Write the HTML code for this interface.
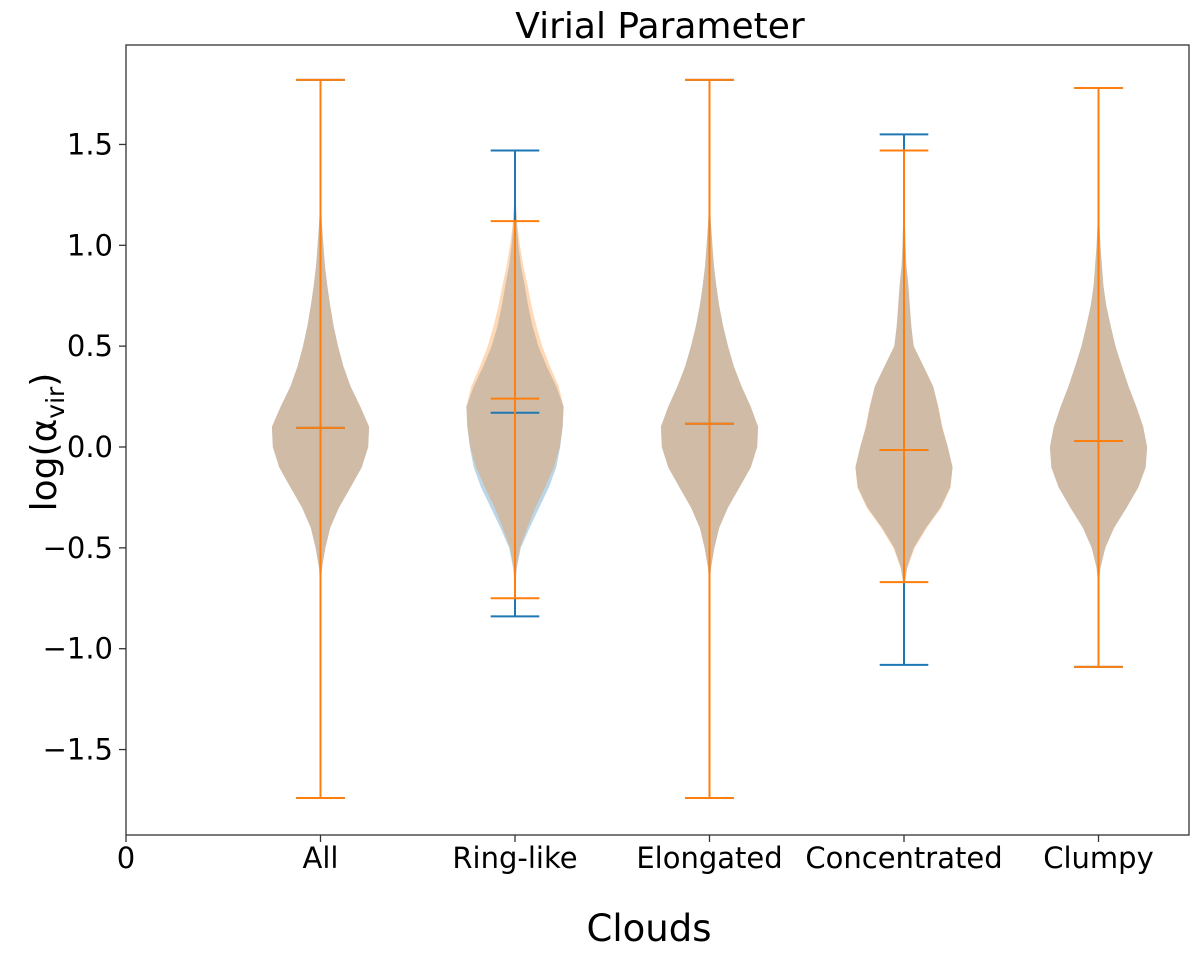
<!DOCTYPE html>
<html><head><meta charset="utf-8"><style>
body{margin:0;background:#fff}
svg{display:block;font-family:"DejaVu Sans","Liberation Sans",sans-serif}
</style></head><body>
<svg id="chart" width="1200" height="954">
<rect x="0" y="0" width="1200" height="954" fill="#fff"/>
<text x="660" y="38" font-size="36" text-anchor="middle">Virial Parameter</text>
<text x="649" y="941" font-size="37" text-anchor="middle">Clouds</text>
<text transform="translate(56,442) rotate(-90)" font-size="36" text-anchor="middle">log(α<tspan font-size="25" dy="8">vir</tspan><tspan dy="-8">)</tspan></text>
<g id="plot"></g>
<rect x="126" y="45" width="1063" height="790" fill="none" stroke="#333" stroke-width="1.3"/>
</svg>
<script>
const categories = ["All","Ring-like","Elongated","Concentrated","Clumpy"];
const yLevels = [-0.7,-0.6,-0.5,-0.4,-0.3,-0.2,-0.1,0,0.1,0.2,0.3,0.4,0.5,0.6,0.7,0.8,0.9,1.0,1.1,1.2,1.3];
const densBlue = [
 [0,0.03,0.1,0.2,0.38,0.62,0.85,0.98,1,0.82,0.62,0.47,0.36,0.27,0.2,0.14,0.09,0.06,0.03,0.01,0],
 [0,0.04,0.12,0.3,0.5,0.7,0.85,0.93,0.98,1,0.85,0.65,0.48,0.36,0.27,0.2,0.12,0.07,0.04,0.02,0],
 [0,0.03,0.1,0.2,0.38,0.62,0.85,0.98,1,0.85,0.66,0.5,0.38,0.28,0.2,0.14,0.09,0.06,0.03,0.01,0],
 [0,0.06,0.2,0.45,0.75,0.95,1,0.9,0.78,0.7,0.6,0.4,0.2,0.15,0.12,0.09,0.05,0.03,0.02,0.01,0],
 [0,0.04,0.14,0.32,0.58,0.82,0.97,1,0.92,0.78,0.62,0.48,0.35,0.25,0.16,0.1,0.07,0.04,0.02,0.01,0]
];
const densOrange = [
 [0,0.03,0.1,0.2,0.38,0.62,0.85,0.98,1,0.82,0.62,0.47,0.36,0.27,0.2,0.14,0.09,0.06,0.03,0.01,0],
 [0,0.03,0.1,0.25,0.42,0.62,0.8,0.92,0.98,1,0.9,0.72,0.56,0.44,0.34,0.26,0.17,0.1,0.05,0.02,0],
 [0,0.03,0.1,0.2,0.38,0.62,0.85,0.98,1,0.85,0.66,0.5,0.38,0.28,0.2,0.14,0.09,0.06,0.03,0.01,0],
 [0,0.07,0.22,0.47,0.77,0.96,1,0.9,0.79,0.71,0.6,0.4,0.2,0.15,0.12,0.09,0.05,0.03,0.02,0.01,0],
 [0,0.04,0.14,0.32,0.58,0.82,0.97,1,0.92,0.78,0.62,0.48,0.35,0.25,0.16,0.1,0.07,0.04,0.02,0.01,0]
];
const blueMin = [-1.74,-0.84,-1.74,-1.08,-1.09];
const blueMax = [1.82,1.47,1.82,1.55,1.78];
const blueMed = [0.095,0.17,0.115,-0.015,0.03];
const orangeMin = [-1.74,-0.75,-1.74,-0.67,-1.09];
const orangeMax = [1.82,1.12,1.82,1.47,1.78];
const orangeMed = [0.095,0.24,0.115,-0.015,0.03];
const yTicks = [-1.5,-1.0,-0.5,0.0,0.5,1.0,1.5];
const yTickLabels = ["−1.5","−1.0","−0.5","0.0","0.5","1.0","1.5"];

const X0=126, XU=194.5, Y0=447, YU=201.7;
const xs = v => X0 + v*XU;
const ys = v => Y0 - v*YU;
const NS='http://www.w3.org/2000/svg';
const plot=document.getElementById('plot');
function mk(tag, attrs){const e=document.createElementNS(NS,tag);for(const k in attrs)e.setAttribute(k,attrs[k]);plot.appendChild(e);return e;}

yTicks.forEach((t,i)=>{
  const l=mk('line',{x1:119,x2:126,y1:ys(t),y2:ys(t),stroke:'#333','stroke-width':1.3});
  
  
  const tx=mk('text',{x:113,y:ys(t)+10,'font-size':29,'text-anchor':'end'});
  tx.textContent=yTickLabels[i];
  
  
});
const xLabels=["0"].concat(categories);
xLabels.forEach((c,i)=>{
  const l=mk('line',{x1:xs(i),x2:xs(i),y1:835,y2:842,stroke:'#333','stroke-width':1.3});
  
  
  const tx=mk('text',{x:xs(i),y:868,'font-size':29,'text-anchor':'middle'});
  tx.textContent=c;
  
  
});

function violin(i,dens,color){
  const cx=xs(i+1), hw=0.25*XU;
  let r=[],l=[];
  yLevels.forEach((y,k)=>{r.push((cx+dens[k]*hw).toFixed(1)+','+ys(y).toFixed(1));l.unshift((cx-dens[k]*hw).toFixed(1)+','+ys(y).toFixed(1));});
  const p=mk('polygon',{points:r.concat(l).join(' '),fill:color,'fill-opacity':0.3,'stroke-linejoin':'round'});
  
  
}
function stats(i,mn,mx,md,color){
  const cx=xs(i+1), cw=0.125*XU;
  const v=mk('line',{x1:cx,x2:cx,y1:ys(mx),y2:ys(mn),stroke:color,'stroke-width':2});
  
  
  [mn,mx,md].forEach((val,k)=>{
    const c=mk('line',{x1:cx-cw,x2:cx+cw,y1:ys(val),y2:ys(val),stroke:color,'stroke-width':2});
    
    
  });
}
categories.forEach((c,i)=>{violin(i,densBlue[i],'#1f77b4');});
categories.forEach((c,i)=>{violin(i,densOrange[i],'#ff7f0e');});
categories.forEach((c,i)=>{stats(i,blueMin[i],blueMax[i],blueMed[i],'#1f77b4');});
categories.forEach((c,i)=>{stats(i,orangeMin[i],orangeMax[i],orangeMed[i],'#ff7f0e');});
</script>
</body></html>
